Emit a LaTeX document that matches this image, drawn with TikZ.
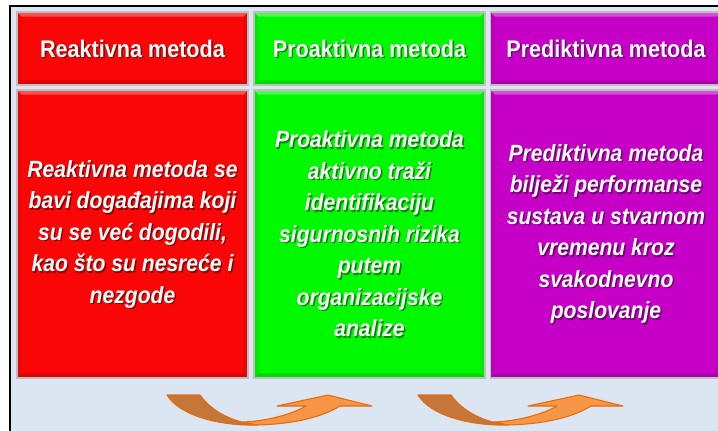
\documentclass[tikz,border=0pt]{standalone}
\usepackage{fontspec}
\usepackage{tikz}
\newfontfamily\boxfont[FakeStretch=0.9]{Liberation Sans}
\newcommand{\hdfont}{\boxfont\bfseries\fontsize{18}{22}\selectfont}
\newcommand{\bdfont}{\boxfont\bfseries\itshape\fontsize{17.6}{23.6}\selectfont}

\definecolor{rdfill}{HTML}{FA0606}
\definecolor{grfill}{HTML}{00F800}
\definecolor{mgfill}{HTML}{C600C6}
\definecolor{bgblue}{HTML}{DCE6F2}
\definecolor{arrlight}{HTML}{F79646}
\definecolor{arrdark}{HTML}{C47739}
\definecolor{arredge}{HTML}{E46C0A}

\newcommand{\methodbox}[7]{
  \node[box, fill=#5, minimum height=#4] (#1) at (#2,#3) {};
  \node[boxtext, font=#6, text=black, opacity=.45] (#1shade) at ([xshift=1.1pt,yshift=-1.1pt]#1.center) {#7};
  \node[boxtext, font=#6] (#1text) at (#1.center) {#7};
}

\begin{document}
\begin{tikzpicture}[x=0.75pt, y=-0.75pt,
    box/.style={draw=black!25, line width=0.8pt, inner sep=0pt, minimum width=173.25pt,
      path picture={
        \fill[white, opacity=.3] (path picture bounding box.north west) -- (path picture bounding box.north east)
          -- ([xshift=-3.5pt,yshift=-3.5pt]path picture bounding box.north east) -- ([xshift=3.5pt,yshift=-3.5pt]path picture bounding box.north west) -- cycle;
        \fill[black, opacity=.12] (path picture bounding box.south west) -- (path picture bounding box.south east)
          -- ([xshift=-3.5pt,yshift=3.5pt]path picture bounding box.south east) -- ([xshift=3.5pt,yshift=3.5pt]path picture bounding box.south west) -- cycle;
        \fill[black, opacity=.06] (path picture bounding box.north west) -- ([xshift=3.5pt,yshift=-3.5pt]path picture bounding box.north west)
          -- ([xshift=3.5pt,yshift=3.5pt]path picture bounding box.south west) -- (path picture bounding box.south west) -- cycle;
        \fill[black, opacity=.06] (path picture bounding box.north east) -- ([xshift=-3.5pt,yshift=-3.5pt]path picture bounding box.north east)
          -- ([xshift=-3.5pt,yshift=3.5pt]path picture bounding box.south east) -- (path picture bounding box.south east) -- cycle;
      }},
    boxtext/.style={text=white, align=center, inner sep=0pt},
    arrpart/.style={draw=arredge, line width=0.8pt, line join=round}]
\useasboundingbox (0,0) rectangle (718,430);
\clip (0,0) rectangle (718,430);
\fill[white] (0,0) rectangle (718,430);
\draw[line width=1.3pt, fill=bgblue] (10,6) rectangle (740,450);

\methodbox{rdhead}{132.5}{48.5}{54.75pt}{rdfill}{\hdfont}{Reaktivna metoda}
\methodbox{grhead}{369.5}{48.5}{54.75pt}{grfill}{\hdfont}{Proaktivna metoda}
\methodbox{mghead}{606}{48.5}{54.75pt}{mgfill}{\hdfont}{Prediktivna metoda}

\methodbox{rdbody}{132.5}{234}{216pt}{rdfill}{\bdfont}{Reaktivna metoda se\\ bavi događajima koji\\ su se već dogodili,\\ kao što su nesreće i\\ nezgode}
\methodbox{grbody}{369.5}{234}{216pt}{grfill}{\bdfont}{Proaktivna metoda\\ aktivno traži\\ identifikaciju\\ sigurnosnih rizika\\ putem\\ organizacijske\\ analize}
\methodbox{mgbody}{606}{234}{216pt}{mgfill}{\bdfont}{Prediktivna metoda\\ bilježi performanse\\ sustava u stvarnom\\ vremenu kroz\\ svakodnevno\\ poslovanje}

\foreach \dx in {0,251} {
  \begin{scope}[shift={(\dx,0)}]
    \fill[arrlight, arrpart] (243,422) .. controls (268,421) and (292,414) .. (306,406) -- (277,406) -- (328,395)
      -- (372,406) -- (340,406) .. controls (322,417) and (295,424) .. (257,425) -- cycle;
    \fill[arrdark, arrpart] (167,395) -- (200,395) .. controls (213,413) and (234,422) .. (257,425)
      .. controls (220,426) and (180,416) .. (167,395) -- cycle;
  \end{scope}
}
\end{tikzpicture}
\end{document}
